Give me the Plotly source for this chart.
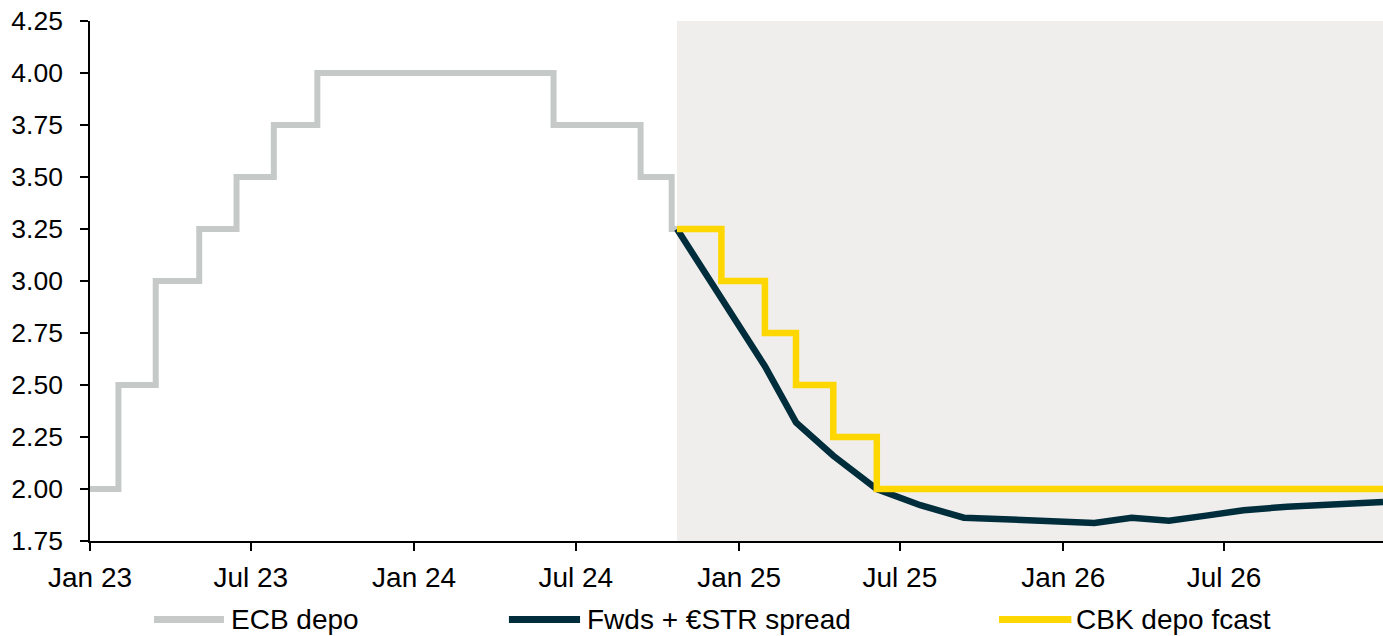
import plotly.graph_objects as go

# ---- data ----
ecb_dates = ["2023-01-01", "2023-02-02", "2023-03-16", "2023-05-04", "2023-06-15",
             "2023-07-27", "2023-09-14", "2024-06-06", "2024-09-12", "2024-10-17",
             "2024-10-23"]
ecb_values = [2.00, 2.50, 3.00, 3.25, 3.50, 3.75, 4.00, 3.75, 3.50, 3.25, 3.25]

fwd_dates = ["2024-10-23", "2024-12-12", "2025-01-30", "2025-03-06", "2025-04-17",
             "2025-06-05", "2025-07-24", "2025-09-11", "2025-10-30", "2025-12-18",
             "2026-02-05", "2026-03-19", "2026-04-30", "2026-06-11", "2026-07-23",
             "2026-09-10", "2026-10-29", "2026-12-27"]
fwd_values = [3.25, 2.91, 2.59, 2.32, 2.16, 2.00, 1.922, 1.862, 1.852, 1.844,
              1.837, 1.862, 1.847, 1.872, 1.898, 1.915, 1.926, 1.938]

cbk_dates = ["2024-10-23", "2024-12-12", "2025-01-30", "2025-03-06", "2025-04-17",
             "2025-06-05", "2026-12-27"]
cbk_values = [3.25, 3.00, 2.75, 2.50, 2.25, 2.00, 2.00]

forecast_start = "2024-10-23"
x_start, x_end = "2023-01-01", "2026-12-27"

x_tick_dates = ["2023-01-01", "2023-07-01", "2024-01-01", "2024-07-01",
                "2025-01-01", "2025-07-01", "2026-01-01", "2026-07-01"]
x_tick_labels = ["Jan 23", "Jul 23", "Jan 24", "Jul 24",
                 "Jan 25", "Jul 25", "Jan 26", "Jul 26"]
y_tick_vals = [1.75, 2.00, 2.25, 2.50, 2.75, 3.00, 3.25, 3.50, 3.75, 4.00, 4.25]

series_names = ["ECB depo", "Fwds + €STR spread", "CBK depo fcast"]
series_colors = ["#C5CAC8", "#002D3B", "#FFD700"]

FONT = "Liberation Sans, Arial, sans-serif"

fig = go.Figure()
fig.add_trace(go.Scatter(x=ecb_dates, y=ecb_values, mode="lines", name=series_names[0],
                         line=dict(color=series_colors[0], width=6, shape="hv")))
fig.add_trace(go.Scatter(x=fwd_dates, y=fwd_values, mode="lines", name=series_names[1],
                         line=dict(color=series_colors[1], width=6.5)))
fig.add_trace(go.Scatter(x=cbk_dates, y=cbk_values, mode="lines", name=series_names[2],
                         line=dict(color=series_colors[2], width=6.5, shape="hv")))

# forecast shading
fig.add_shape(type="rect", xref="x", yref="paper", x0=forecast_start, x1=x_end,
              y0=0, y1=1, fillcolor="#F0EEEC", line=dict(width=0), layer="below")

# custom legend (long line samples)
legend_items = [(0.0495, 0.1036, 0.1080), (0.3240, 0.3790, 0.3834), (0.7030, 0.7590, 0.7620)]
leg_y = -0.151
for (s0, s1, tx), name, col in zip(legend_items, series_names, series_colors):
    fig.add_shape(type="line", xref="paper", yref="paper", x0=s0, x1=s1, y0=leg_y, y1=leg_y,
                  line=dict(color=col, width=7))
    fig.add_annotation(xref="paper", yref="paper", x=tx, y=leg_y, text=name, showarrow=False,
                       xanchor="left", yanchor="middle", borderpad=0,
                       font=dict(family=FONT, size=28, color="#000000"))

fig.update_layout(
    width=1383, height=636,
    margin=dict(l=90, r=0, t=21, b=95, autoexpand=False),
    paper_bgcolor="white", plot_bgcolor="white",
    showlegend=False,
    font=dict(family=FONT, size=26, color="#000000"),
)
fig.update_xaxes(
    type="date", range=[x_start, x_end], automargin=False,
    tickmode="array", tickvals=x_tick_dates, ticktext=x_tick_labels,
    showgrid=False, zeroline=False,
    showline=True, linecolor="#000000", linewidth=1.5,
    ticks="outside", ticklen=8, tickwidth=1.5, tickcolor="#000000",
    ticklabelstandoff=3,
    tickfont=dict(family=FONT, size=28, color="#000000"),
)
fig.update_yaxes(
    range=[1.75, 4.25], automargin=False,
    tickmode="array", tickvals=y_tick_vals, tickformat=".2f",
    showgrid=False, zeroline=False,
    showline=True, linecolor="#000000", linewidth=1.5,
    ticks="outside", ticklen=8, tickwidth=1.5, tickcolor="#000000",
    ticklabelstandoff=12,
    tickfont=dict(family=FONT, size=26.5, color="#000000"),
)

fig.write_html(
    "out.html",
    config={"displayModeBar": False},
    post_script="document.body.style.margin='0';document.body.style.padding='0';"
                "document.documentElement.style.overflow='hidden';",
)
